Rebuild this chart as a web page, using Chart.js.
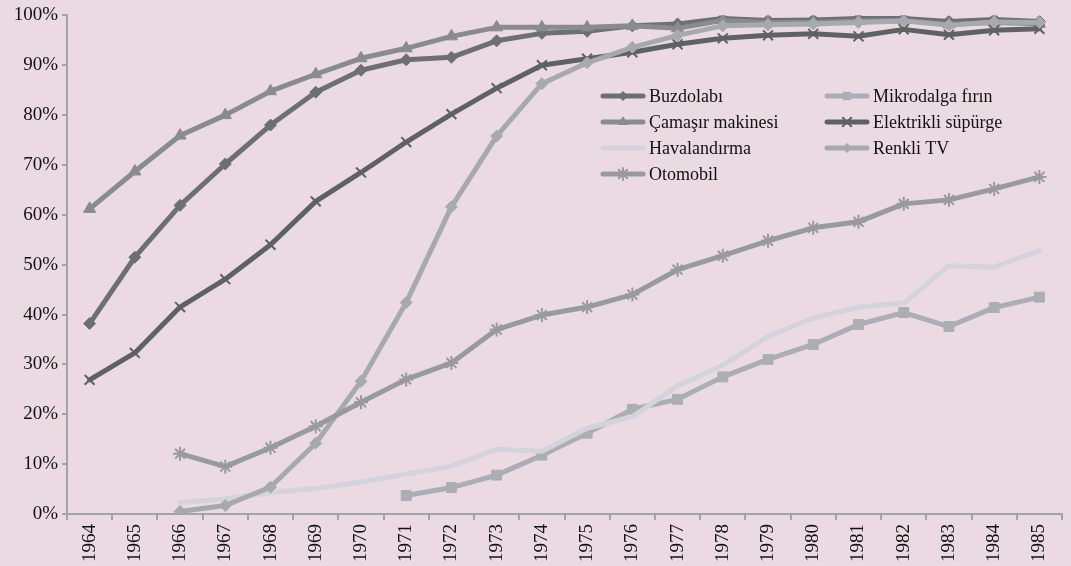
<!DOCTYPE html>
<html>
<head>
<meta charset="utf-8">
<script src="https://cdn.jsdelivr.net/npm/chart.js@4/dist/chart.umd.min.js"></script>
<style>
    html, body { margin: 0; padding: 0; background: #ecdae2; overflow: hidden; }
    #wrap { position: relative; width: 1071px; height: 566px; }
    #legend { position: absolute; left: 0; top: 0; font-family: "Liberation Serif", "DejaVu Serif", serif; font-size: 18px; color: #111; }
    .item { position: absolute; display: flex; align-items: center; height: 26px; white-space: nowrap; }
    .item canvas { margin-right: 3px; }
</style>
</head>
<body>
<div id="wrap">
    <canvas id="chart" width="1071" height="566"></canvas>
    <div id="legend"></div>
</div>
<script>
// Years on the category axis
const years = ['1964', '1965', '1966', '1967', '1968', '1969', '1970', '1971', '1972', '1973', '1974',
               '1975', '1976', '1977', '1978', '1979', '1980', '1981', '1982', '1983', '1984', '1985'];

// Share of households (%); null = no data yet
const buzdolabi = [38.2, 51.5, 61.9, 70.2, 78.0, 84.6, 89.0, 91.1, 91.6, 94.9, 96.4,
                   96.8, 97.9, 98.3, 99.4, 99.0, 99.1, 99.4, 99.4, 98.8, 99.2, 98.8];
const mikrodalga = [null, null, null, null, null, null, null, 3.7, 5.3, 7.8, 11.8,
                    16.2, 21.0, 23.0, 27.5, 31.0, 34.0, 38.0, 40.4, 37.6, 41.4, 43.5];
const camasir = [61.2, 68.7, 75.9, 80.0, 84.8, 88.2, 91.4, 93.4, 95.8, 97.6, 97.6,
                 97.6, 97.9, 97.4, 99.0, 98.6, 98.6, 98.9, 99.0, 98.2, 98.6, 98.3];
const supurge = [26.9, 32.3, 41.5, 47.1, 54.0, 62.7, 68.5, 74.6, 80.2, 85.4, 90.0,
                 91.3, 92.6, 94.2, 95.4, 96.0, 96.3, 95.8, 97.2, 96.1, 97.0, 97.3];
const havalandirma = [null, null, 2.3, 3.0, 4.3, 5.1, 6.4, 8.0, 9.6, 13.0, 12.6,
                      17.2, 19.5, 25.7, 29.8, 35.6, 39.3, 41.5, 42.3, 49.8, 49.5, 52.8];
const renkliTv = [null, null, 0.5, 1.7, 5.4, 14.2, 26.6, 42.4, 61.6, 75.8, 86.3,
                  90.5, 93.6, 96.0, 97.9, 98.1, 98.3, 98.6, 98.9, 98.0, 98.7, 98.6];
const otomobil = [null, null, 12.1, 9.5, 13.3, 17.6, 22.4, 27.0, 30.3, 37.0, 39.9,
                  41.5, 44.0, 49.0, 51.8, 54.8, 57.4, 58.6, 62.2, 63.0, 65.2, 67.6];

// Series in the order the legend reads (row by row)
const series = [
    { label: 'Buzdolabı', data: buzdolabi, color: '#6d7072', point: 'rectRot', radius: 6 },
    { label: 'Mikrodalga fırın', data: mikrodalga, color: '#abaeb2', point: 'rect', radius: 7 },
    { label: 'Çamaşır makinesi', data: camasir, color: '#898c8f', point: 'triangle', radius: 7 },
    { label: 'Elektrikli süpürge', data: supurge, color: '#5e6262', point: 'crossRot', radius: 7 },
    { label: 'Havalandırma', data: havalandirma, color: '#d2d4d9', point: false, radius: 0 },
    { label: 'Renkli TV', data: renkliTv, color: '#a6aaad', point: 'rectRot', radius: 6 },
    { label: 'Otomobil', data: otomobil, color: '#979b9d', point: 'star', radius: 7 }
];

const axisColor = '#a2a5a8';
const tickFont = { family: '"Liberation Serif", "DejaVu Serif", serif', size: 19 };

const datasets = series.map((s, i) => ({
    label: s.label,
    data: s.data,
    borderColor: s.color,
    backgroundColor: s.color,
    borderWidth: 5,
    borderJoinStyle: 'round',
    borderCapStyle: 'round',
    pointStyle: s.point,
    pointRadius: s.radius,
    pointBorderWidth: (s.point === 'crossRot' || s.point === 'star') ? 2 : 1,
    pointBorderColor: s.color,
    pointBackgroundColor: s.color,
    tension: 0,
    order: series.length - i   // later series drawn on top, as in the original
}));

const chart = new Chart(document.getElementById('chart'), {
    type: 'line',
    data: { labels: years, datasets: datasets },
    options: {
        responsive: false,
        animation: false,
        layout: { padding: { top: 13, right: 0, bottom: 0, left: 0 } },
        plugins: { legend: { display: false }, tooltip: { enabled: false } },
        scales: {
            x: {
                offset: true,
                grid: { drawOnChartArea: false, drawTicks: true, tickLength: 6, color: axisColor, lineWidth: 2, offset: true },
                border: { color: axisColor, width: 2 },
                ticks: { color: '#111', font: tickFont, maxRotation: 90, minRotation: 90, padding: 4, autoSkip: false },
                afterFit: scale => { scale.height = 52; }
            },
            y: {
                min: 0,
                max: 100,
                grid: { drawOnChartArea: false, drawTicks: true, tickLength: 5, color: axisColor, lineWidth: 2 },
                border: { color: axisColor, width: 2 },
                ticks: { stepSize: 10, color: '#111', font: tickFont, padding: 4, callback: v => v + '%' },
                afterFit: scale => { scale.width = 67; }
            }
        }
    }
});

// Small swatch: line with the series marker in the middle
function drawSwatch(canvas, s) {
    const ctx = canvas.getContext('2d');
    const w = canvas.width, h = canvas.height, cy = h / 2, cx = w / 2;
    ctx.strokeStyle = s.color;
    ctx.fillStyle = s.color;
    ctx.lineWidth = 5;
    ctx.lineCap = 'round';
    ctx.beginPath();
    ctx.moveTo(3, cy);
    ctx.lineTo(w - 3, cy);
    ctx.stroke();
    const r = s.radius - 1;
    ctx.lineWidth = 2;
    ctx.beginPath();
    if (s.point === 'rectRot') {
        ctx.moveTo(cx, cy - r); ctx.lineTo(cx + r, cy); ctx.lineTo(cx, cy + r); ctx.lineTo(cx - r, cy);
        ctx.closePath(); ctx.fill();
    } else if (s.point === 'rect') {
        ctx.rect(cx - r * 0.7, cy - r * 0.7, r * 1.4, r * 1.4); ctx.fill();
    } else if (s.point === 'triangle') {
        ctx.moveTo(cx, cy - r); ctx.lineTo(cx + r * 0.87, cy + r / 2); ctx.lineTo(cx - r * 0.87, cy + r / 2);
        ctx.closePath(); ctx.fill();
    } else if (s.point === 'crossRot') {
        const d = r * 0.7;
        ctx.moveTo(cx - d, cy - d); ctx.lineTo(cx + d, cy + d);
        ctx.moveTo(cx + d, cy - d); ctx.lineTo(cx - d, cy + d); ctx.stroke();
    } else if (s.point === 'star') {
        const d = r * 0.7;
        ctx.moveTo(cx - d, cy - d); ctx.lineTo(cx + d, cy + d);
        ctx.moveTo(cx + d, cy - d); ctx.lineTo(cx - d, cy + d);
        ctx.moveTo(cx, cy - r); ctx.lineTo(cx, cy + r); ctx.stroke();
    }
}

// Legend inside the plot, two columns
function buildLegend() {
    const legend = document.getElementById('legend');
    const colX = [600, 824];
    const rowY = [83, 109, 135, 161];
    series.forEach((s, i) => {
        const item = document.createElement('div');
        item.className = 'item';
        item.style.left = colX[i % 2] + 'px';
        item.style.top = rowY[Math.floor(i / 2)] + 'px';
        const sw = document.createElement('canvas');
        sw.width = 46;
        sw.height = 16;
        drawSwatch(sw, s);
        item.appendChild(sw);
        const text = document.createElement('span');
        text.textContent = s.label;
        item.appendChild(text);
        legend.appendChild(item);
    });
}

buildLegend();
</script>
</body>
</html>
